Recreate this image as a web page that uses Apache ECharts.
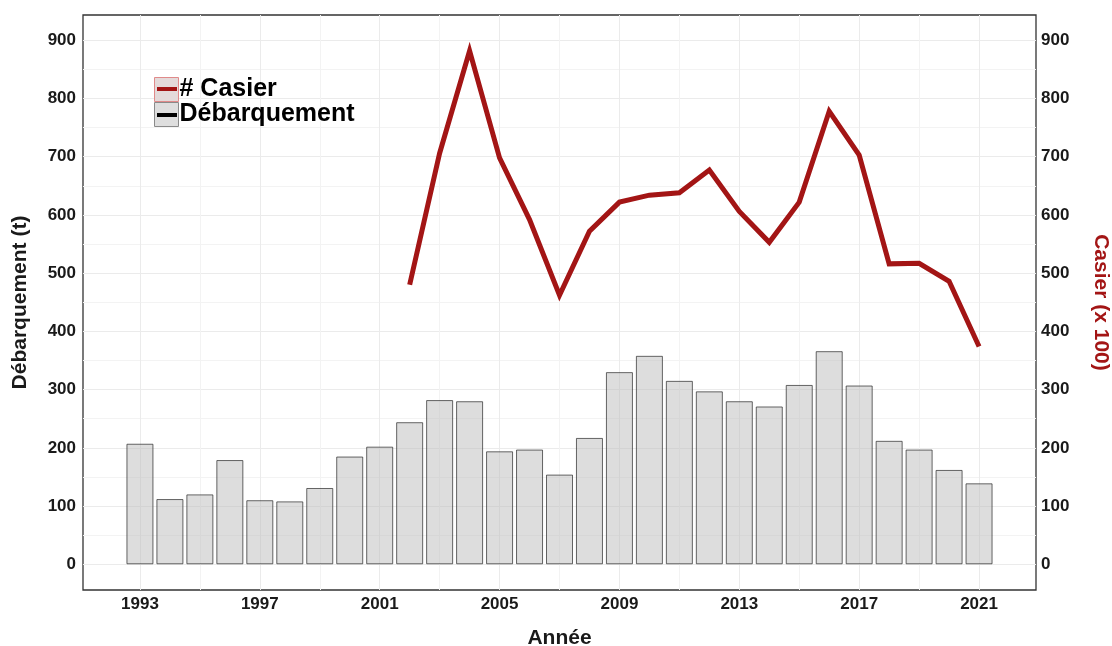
<!DOCTYPE html>
<html>
<head>
<meta charset="utf-8">
<script src="https://cdn.jsdelivr.net/npm/echarts@6/dist/echarts.min.js"></script>
<style>
  html, body { margin: 0; padding: 0; background: #fff; }
  #chart { width: 1112px; height: 646px; }
</style>
</head>
<body>
<div id="chart"></div>
<script>
// annees et valeurs
var years = [1993, 1994, 1995, 1996, 1997, 1998, 1999, 2000, 2001, 2002,
             2003, 2004, 2005, 2006, 2007, 2008, 2009, 2010, 2011, 2012,
             2013, 2014, 2015, 2016, 2017, 2018, 2019, 2020, 2021];
var debarquement = [207, 112, 120, 179, 110, 108, 131, 185, 202, 244,
                    282, 280, 194, 197, 154, 217, 330, 358, 315, 297,
                    280, 271, 308, 366, 307, 212, 197, 162, 139];
var casierYears = [2002, 2003, 2004, 2005, 2006, 2007, 2008, 2009, 2010, 2011,
                   2012, 2013, 2014, 2015, 2016, 2017, 2018, 2019, 2020, 2021];
var casier = [480, 706, 882, 698, 592, 462, 572, 622, 634, 638,
              677, 606, 553, 622, 778, 703, 516, 517, 486, 374];

var xTicks = [1993, 1997, 2001, 2005, 2009, 2013, 2017, 2021];
var xMinor = [1995, 1999, 2003, 2007, 2011, 2015, 2019];
var yTicks = [0, 100, 200, 300, 400, 500, 600, 700, 800, 900];
var yMinor = [50, 150, 250, 350, 450, 550, 650, 750, 850];

var font = 'Liberation Sans, Arial, sans-serif';
var red = '#a31515';

function pairs(xs, ys) {
  return xs.map(function (x, i) { return [x, ys[i]]; });
}

var chart = echarts.init(document.getElementById('chart'));

var labelStyle = { fontFamily: font, fontWeight: 'bold', fontSize: 17, color: '#1a1a1a' };

var option = {
  animation: false,
  backgroundColor: '#fff',
  grid: { left: 83, right: 76, top: 15, bottom: 56, show: true, outerBoundsMode: 'none',
          borderColor: '#333', borderWidth: 1.3, backgroundColor: 'transparent' },
  xAxis: [
    { type: 'value', min: 1991.1, max: 2022.9,
      name: 'Année', nameLocation: 'middle', nameGap: 38,
      nameTextStyle: { fontFamily: font, fontWeight: 'bold', fontSize: 21, color: '#1a1a1a' },
      axisLine: { show: false }, axisTick: { show: false, customValues: xTicks },
      axisLabel: Object.assign({ customValues: xTicks, margin: 6,
        formatter: function (v) { return String(v); } }, labelStyle),
      splitLine: { show: true, lineStyle: { color: '#ebebeb', width: 1 } } },
    { type: 'value', min: 1991.1, max: 2022.9, position: 'bottom',
      axisLine: { show: false }, axisTick: { show: false, customValues: xMinor },
      axisLabel: { show: false },
      splitLine: { show: true, lineStyle: { color: '#f3f3f3', width: 1 } } }
  ],
  yAxis: [
    { type: 'value', min: -44.2, max: 943.4, position: 'left',
      name: 'Débarquement (t)', nameLocation: 'middle', nameGap: 52,
      nameTextStyle: { fontFamily: font, fontWeight: 'bold', fontSize: 21, color: '#1a1a1a' },
      axisLine: { show: false }, axisTick: { show: false, customValues: yTicks },
      axisLabel: Object.assign({ customValues: yTicks, margin: 7 }, labelStyle),
      splitLine: { show: true, lineStyle: { color: '#ebebeb', width: 1 } } },
    { type: 'value', min: -44.2, max: 943.4, position: 'right',
      name: 'Casier (x 100)', nameLocation: 'middle', nameGap: 54, nameRotate: -90,
      nameTextStyle: { fontFamily: font, fontWeight: 'bold', fontSize: 21, color: red },
      axisLine: { show: false }, axisTick: { show: false, customValues: yTicks },
      axisLabel: Object.assign({ customValues: yTicks, margin: 5 }, labelStyle),
      splitLine: { show: false } },
    { type: 'value', min: -44.2, max: 943.4, position: 'left',
      axisLine: { show: false }, axisTick: { show: false, customValues: yMinor },
      axisLabel: { show: false },
      splitLine: { show: true, lineStyle: { color: '#f3f3f3', width: 1 } } }
  ],
  legend: {
    orient: 'vertical', left: 154, top: 75,
    itemWidth: 24, itemHeight: 24, itemGap: -4, padding: 0,
    textStyle: { fontFamily: font, fontWeight: 'bold', fontSize: 25, lineHeight: 25,
                 color: '#000', padding: [4, 0, 0, -4] },
    data: [
      { name: '# Casier', icon: 'rect',
        itemStyle: { color: '#e4dada', borderColor: '#e08a8a', borderWidth: 1 } },
      { name: 'Débarquement', icon: 'rect',
        itemStyle: { color: '#dedede', borderColor: '#8a8a8a', borderWidth: 1 } }
    ]
  },
  graphic: [
    { type: 'line', z: 100, shape: { x1: 157, y1: 89, x2: 177, y2: 89 },
      style: { stroke: red, lineWidth: 4 } },
    { type: 'line', z: 100, shape: { x1: 157, y1: 115, x2: 177, y2: 115 },
      style: { stroke: '#000', lineWidth: 4 } }
  ],
  series: [
    { name: 'Débarquement', type: 'bar', xAxisIndex: 0, yAxisIndex: 0,
      data: pairs(years, debarquement), barWidth: 27,
      itemStyle: { color: 'rgba(190,190,190,0.52)', borderColor: 'rgba(40,40,40,0.7)', borderWidth: 1 } },
    { name: '# Casier', type: 'line', xAxisIndex: 0, yAxisIndex: 1,
      data: pairs(casierYears, casier), showSymbol: false, symbol: 'none',
      lineStyle: { color: red, width: 5, join: 'miter' }, itemStyle: { color: red } }
  ]
};
chart.setOption(option);
</script>
</body>
</html>
